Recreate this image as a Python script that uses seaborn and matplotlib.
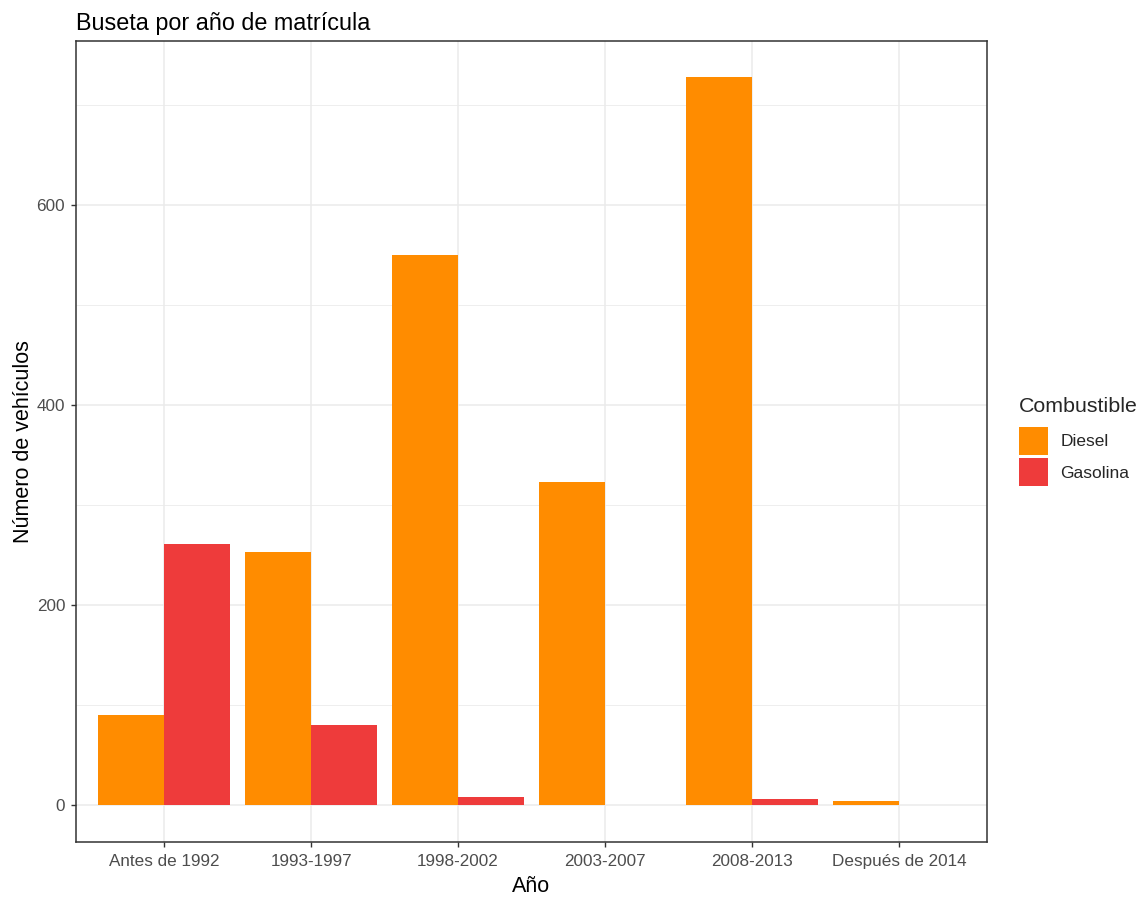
import matplotlib
matplotlib.use("Agg")
import matplotlib.pyplot as plt
import seaborn as sns
import pandas as pd

anios = ["Antes de 1992", "1993-1997", "1998-2002", "2003-2007", "2008-2013", "Después de 2014"]
diesel = [90, 253, 550, 323, 728, 4]
gasolina = [261, 80, 8, 0, 6, 0]
combustibles = ["Diesel", "Gasolina"]
colores = {"Diesel": "#FF8C00", "Gasolina": "#EE3B3B"}

df = pd.DataFrame({
    "Año": anios * 2,
    "Combustible": ["Diesel"] * len(anios) + ["Gasolina"] * len(anios),
    "n": diesel + gasolina,
})

sns.set_theme(style="white")
plt.rcParams["font.family"] = ["Liberation Sans", "DejaVu Sans"]

fig = plt.figure(figsize=(11.43, 8.99), dpi=100)
ax = fig.add_axes([0.0665, 0.0634, 0.797, 0.891])

# grilla estilo theme_bw
for y in range(0, 800, 100):
    ax.axhline(y, color="#EBEBEB", lw=1.1 if y % 200 == 0 else 0.6, zorder=0)
for i in range(len(anios)):
    ax.axvline(i, color="#EBEBEB", lw=1.1, zorder=0)

sns.barplot(data=df, x="Año", y="n", hue="Combustible", hue_order=combustibles,
            order=anios, palette=colores, width=0.9, saturation=1,
            linewidth=0, ax=ax, zorder=2)

ax.set_xlim(-0.6, len(anios) - 0.4)
ax.set_ylim(-37, 764)
ax.set_yticks([0, 200, 400, 600])
ax.set_title("Buseta por año de matrícula", loc="left", fontsize=16.8, color="black", pad=8, x=0.0)
ax.set_xlabel("Año", fontsize=15.5, color="black", labelpad=5)
ax.set_ylabel("Número de vehículos", fontsize=15.5, color="black", labelpad=2)
ax.tick_params(axis="both", labelsize=12.3, labelcolor="#4D4D4D", color="#333333",
               length=3.8, width=1, direction="out", bottom=True, left=True, pad=4)
ax.tick_params(axis="x", pad=5)
for s in ax.spines.values():
    s.set_color("#333333")
    s.set_linewidth(1.1)
    s.set_visible(True)
ax.grid(False)

leg = ax.legend(title="Combustible", loc="center left", bbox_to_anchor=(1.027, 0.5),
                frameon=False, fontsize=12.5, title_fontsize=15.4, handlelength=1.72,
                handleheight=2.1, handletextpad=0.7, labelspacing=0.22, borderaxespad=0)
leg._legend_box.align = "left"
leg._legend_box.sep = 8

fig.savefig("out.png", dpi=100)
